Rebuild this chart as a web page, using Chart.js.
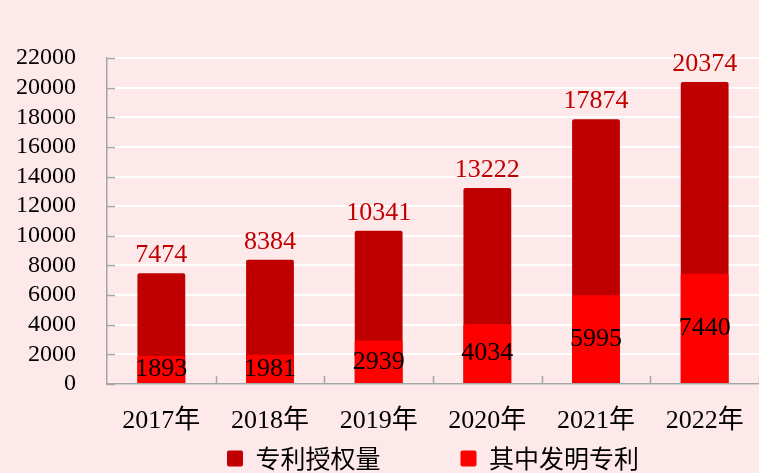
<!DOCTYPE html>
<html>
<head>
<meta charset="utf-8">
<script src="https://cdn.jsdelivr.net/npm/chart.js@4.4.0/dist/chart.umd.min.js"></script>
<style>
  html, body { margin: 0; padding: 0; background: #fde9e9; }
  #grafico { display: block; }
</style>
</head>
<body>
<canvas id="grafico" width="759" height="473"></canvas>
<script>
// -------- DADOS --------
const anos = ["2017年", "2018年", "2019年", "2020年", "2021年", "2022年"];
const totalPatentes = [7474, 8384, 10341, 13222, 17874, 20374];
const patentesInvencao = [1893, 1981, 2939, 4034, 5995, 7440];
const nomesSeries = ["专利授权量", "其中发明专利"];
const yMax = 22000;
const yPasso = 2000;

const SERIF = '"Liberation Serif", "Times New Roman", "Noto Sans CJK SC", serif';
const COR_TOTAL = "#c00000";
const COR_INV = "#ff0000";
const COR_EIXO = "#a6a6a6";

Chart.defaults.font.family = SERIF;
Chart.defaults.color = "#000";

// -------- PLUGINS --------
// rótulos em cima (total) e no meio (invenção)
const rotulos = {
  id: "rotulos",
  afterDatasetsDraw(chart) {
    const ctx = chart.ctx;
    ctx.save();
    ctx.font = "26px " + SERIF;
    ctx.textAlign = "center";

    ctx.fillStyle = COR_TOTAL;
    ctx.textBaseline = "alphabetic";
    chart.getDatasetMeta(0).data.forEach((bar, i) => {
      ctx.fillText(String(totalPatentes[i]), bar.x, bar.y - 11);
    });

    ctx.fillStyle = "#000";
    ctx.textBaseline = "middle";
    chart.getDatasetMeta(1).data.forEach((bar, i) => {
      ctx.fillText(String(patentesInvencao[i]), bar.x, (bar.y + bar.base) / 2);
    });
    ctx.restore();
  }
};

// marcas curtas para dentro, nos dois eixos
const marcas = {
  id: "marcas",
  beforeDatasetsDraw(chart) {
    const { ctx, chartArea, scales } = chart;
    ctx.save();
    ctx.strokeStyle = COR_EIXO;
    ctx.lineWidth = 1.5;
    ctx.beginPath();
    scales.y.ticks.forEach((t) => {
      const y = Math.round(scales.y.getPixelForValue(t.value)) + 0.5;
      ctx.moveTo(chartArea.left, y);
      ctx.lineTo(chartArea.left + 8, y);
    });
    for (let i = 1; i <= anos.length; i++) {
      const x = Math.round(scales.x.getPixelForValue(i - 0.5)) + 0.5;
      ctx.moveTo(x, chartArea.bottom);
      ctx.lineTo(x, chartArea.bottom - 8);
    }
    ctx.stroke();
    ctx.restore();
  }
};

// -------- GRÁFICO --------
const ctx = document.getElementById("grafico").getContext("2d");
const chart = new Chart(ctx, {
  type: "bar",
  data: {
    labels: anos,
    datasets: [
      {
        label: nomesSeries[0],
        data: totalPatentes,
        backgroundColor: COR_TOTAL,
        borderRadius: 2,
        order: 2
      },
      {
        label: nomesSeries[1],
        data: patentesInvencao,
        backgroundColor: COR_INV,
        borderRadius: 2,
        order: 1
      }
    ]
  },
  options: {
    responsive: false,
    animation: false,
    layout: { padding: { top: 58, right: 0, bottom: -8, left: 0 } },
    datasets: {
      bar: { grouped: false, categoryPercentage: 1, barPercentage: 0.44 }
    },
    scales: {
      x: {
        // sem linhas de grade; tickLength só empurra os rótulos para baixo
        grid: { display: false, drawTicks: true, tickLength: 20 },
        border: { color: COR_EIXO, width: 1.5 },
        ticks: { font: { size: 26 }, padding: 2, color: "#000" },
        afterFit: (s) => { s.height = 57; }
      },
      y: {
        min: 0,
        max: yMax,
        ticks: {
          stepSize: yPasso,
          autoSkip: false,
          font: { size: 24 },
          padding: 31,
          color: "#000",
          callback: (v) => String(v)
        },
        grid: { color: "#ffffff", lineWidth: 2, drawTicks: false },
        border: { color: COR_EIXO, width: 1.5 },
        afterFit: (s) => { s.width = 107; }
      }
    },
    plugins: {
      tooltip: { enabled: false },
      legend: {
        position: "bottom",
        fullSize: false,
        labels: {
          font: { size: 25, family: '"Noto Sans CJK SC", sans-serif' },
          color: "#000",
          boxWidth: 16,
          boxHeight: 16,
          useBorderRadius: true,
          borderRadius: 2,
          padding: 5,
          generateLabels(c) {
            const itens = Chart.defaults.plugins.legend.labels.generateLabels(c);
            itens.forEach((it) => {
              if (it.datasetIndex === 0) it.text += "\u3000\u3000\u3000";
            });
            return itens;
          },
          sort: (a, b) => a.datasetIndex - b.datasetIndex
        }
      }
    }
  },
  plugins: [marcas, rotulos]
});
</script>
</body>
</html>
